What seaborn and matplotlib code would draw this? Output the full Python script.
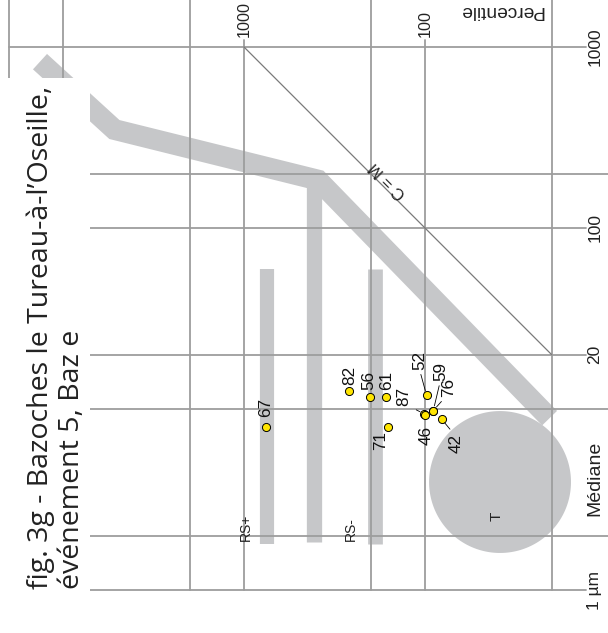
import numpy as np
import pandas as pd
import matplotlib
matplotlib.use("Agg")
import matplotlib.pyplot as plt
from matplotlib.patches import Rectangle
import seaborn as sns

# ---------------------------------------------------------------- data (µm)
# grid values: first percentile C (horizontal, growing to the left)
c_grid = [20000, 10000, 2000, 1000, 200, 100, 20]
# grid values: median M (vertical)
m_grid = [1000, 200, 100, 20, 10, 2, 1]
c_tick_labels = {1000: "1000", 100: "100"}
m_tick_labels = {1000: "1000", 100: "100", 20: "20", 1: "1 µm"}

# samples
sample_ids = ["67", "82", "56", "61", "71", "52", "87", "46", "59", "76", "42"]
sample_c = [759, 262, 201, 164, 160, 98, 101, 100, 90, 90, 81]
sample_m = [8.0, 12.5, 11.7, 11.7, 8.0, 11.9, 9.4, 9.3, 9.8, 9.8, 8.8]

# Passega zones
band_c = [13400, 5200, 390, 20.5]
band_m = [830, 350, 184, 8.9]
bar_c = [750, 410, 190]
bar_m_top = [59, 173, 59]
bar_m_bottom = [1.8, 1.85, 1.8]
t_c, t_m, t_radius = 38.5, 3.95, 0.392   # centre and radius (decades)

# ---------------------------------------------------------------- layout
W, H = 608, 633
DEC = 181.0          # pixels per decade
X_C100 = 425.0       # pixel column of C = 100
Y_M1 = 590.0         # pixel row of M = 1


def c_at(px):
    return 10 ** (2 + (X_C100 - px) / DEC)


def m_at(py):
    return 10 ** ((Y_M1 - py) / DEC)


# label offsets in pixels (dx right, dy down) from each sample point
label_off = {"67": (0, -19), "82": (0, -16), "56": (-1, -16), "61": (1, -16),
             "71": (-7, 14), "52": (-7, -35), "87": (-20, -17), "46": (1, 21),
             "59": (7, -39), "76": (15, -23), "42": (15, 24)}
leader_rel = {"52": (0.5, 0.0), "87": (0.85, 0.0), "59": (0.5, 0.0),
              "76": (0.3, 0.0), "42": (0.3, 1.0)}

sns.set_theme(style="white")
plt.rcParams["font.family"] = ["Liberation Sans", "DejaVu Sans"]

GRID = "#9d9d9d"
ZONE = "#c6c7c9"
INK = "#222222"

fig = plt.figure(figsize=(W / 100, H / 100), dpi=100)
ax = fig.add_axes([0, 0, 1, 1])
ax.set_xscale("log")
ax.set_yscale("log")
ax.set_xlim(c_at(0), c_at(W))
ax.set_ylim(m_at(H), m_at(0))
ax.axis("off")

# grey zones
sns.lineplot(x=band_c, y=band_m, sort=False, estimator=None, ax=ax, color=ZONE,
             linewidth=15, solid_capstyle="butt", solid_joinstyle="miter", zorder=1)
for c, top, bot, lw in zip(bar_c, bar_m_top, bar_m_bottom, [10.2, 11.0, 10.6]):
    ax.plot([c, c], [bot, top], color=ZONE, lw=lw, solid_capstyle="butt", zorder=1)
theta = np.linspace(0, 2 * np.pi, 200)
ax.fill(10 ** (np.log10(t_c) + t_radius * np.cos(theta)),
        10 ** (np.log10(t_m) + t_radius * np.sin(theta)),
        color=ZONE, lw=0, zorder=1)

# grid
for c in c_grid:
    top = m_at(40) if c in c_tick_labels else m_at(0)
    ax.plot([c, c], [1, top], color=GRID, lw=1.3, zorder=2)
for m in m_grid:
    right = c_at(586) if m in m_tick_labels else c_at(W)
    ax.plot([20000, right], [m, m], color=GRID, lw=1.3, zorder=2)

# C = M line
cm = pd.DataFrame({"C": [1000, 20], "M": [1000, 20]})
sns.lineplot(data=cm, x="C", y="M", sort=False, estimator=None, ax=ax,
             color="#7a7a7a", linewidth=0.9, zorder=3)
ax.text(c_at(388), m_at(180), "C = M", rotation=135, rotation_mode="anchor",
        ha="center", va="center", fontsize=12, color=INK)

# tick labels
for c, lab in c_tick_labels.items():
    ax.text(c, m_at(37), lab, rotation=90, ha="center", va="bottom",
            fontsize=11.6, color=INK)
for m, lab in m_tick_labels.items():
    ax.text(c_at(595), m, lab, rotation=90, ha="center", va="center",
            fontsize=12.5, color=INK)
ax.text(c_at(501), m_at(11), "Percentile", rotation=180, ha="center", va="center",
        fontsize=13.8, color=INK)
ax.text(c_at(595), m_at(478), "Médiane", rotation=90, ha="center", va="center",
        fontsize=14, color=INK)

# zone labels
ax.text(c_at(246), m_at(541), "RS+", rotation=90, ha="center", va="bottom",
        fontsize=10, color=INK)
ax.text(c_at(351), m_at(541), "RS-", rotation=90, ha="center", va="bottom",
        fontsize=10, color=INK)
ax.text(c_at(497), m_at(516), "T", rotation=90, ha="center", va="center",
        fontsize=11, color=INK)

# samples
pts = pd.DataFrame({"id": sample_ids, "C": sample_c, "M": sample_m})
sns.scatterplot(data=pts, x="C", y="M", ax=ax, s=34, color="#ffe500",
                edgecolor="black", linewidth=0.7, zorder=6)
for sid, c, m in zip(sample_ids, sample_c, sample_m):
    dx, dy = label_off[sid]
    kw = {}
    if sid in leader_rel:
        kw["arrowprops"] = dict(arrowstyle="-", lw=0.6, color="black",
                                shrinkA=1, shrinkB=3.5, relpos=leader_rel[sid])
    ax.annotate(sid, (c, m), xytext=(dx * 0.72, -dy * 0.72), textcoords="offset points",
                rotation=90, ha="center", va="center", fontsize=12.3,
                color="#111111", zorder=7, **kw)

# title panel
fig.add_artist(Rectangle((0, (H - 592) / H), 90 / W, (592 - 78) / H,
                         transform=fig.transFigure, facecolor="white",
                         edgecolor="none", zorder=10))
fig.text(56 / W, (H - 589) / H,
         "fig. 3g - Bazoches le Tureau-à-l’Oseille,\névénement 5, Baz e",
         rotation=90, ha="center", va="bottom", fontsize=20.5, linespacing=1.15,
         multialignment="left", family=["Open Sans", "DejaVu Sans"],
         color="#222222", zorder=11)

fig.savefig("out.png", dpi=100)
